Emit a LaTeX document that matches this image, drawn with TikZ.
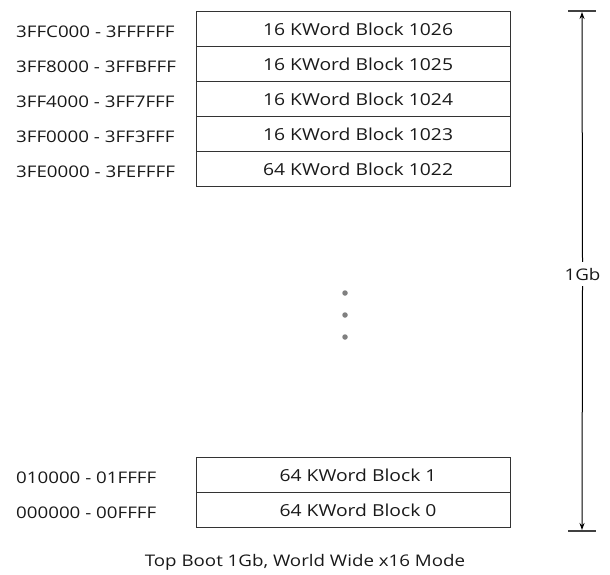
\documentclass[tikz,border=0pt]{standalone}
\usepackage{fontspec}
\setmainfont{Open Sans}[FakeStretch=1.17]
\usetikzlibrary{arrows.meta}
\newcommand{\lowtxt}[1]{\hspace*{10pt}\raisebox{-2.5pt}{#1}}
\begin{document}
\begin{tikzpicture}[x=1pt,y=-1pt,
  txt/.style={font=\fontsize{16}{18}\selectfont, text=black!90, inner sep=0pt},
  blk/.style={draw=black!80, line width=1.1pt, minimum width=314pt, minimum height=35pt, inner sep=0pt, anchor=north west, font=\fontsize{16.5}{18}\selectfont, text=black!90},
  addr/.style={txt, anchor=west},
  dot/.style={circle, fill=black!50, draw=none, minimum size=5.5pt, inner sep=0pt},
  bar/.style={draw=black!75, line width=1.1pt},
  arr/.style={draw=black, line width=1pt, -{Stealth[length=7pt,width=5pt]}}]
\useasboundingbox (0,0) rectangle (610,574);
% top blocks
\node[blk] (b1026) at (195.5,11) {\lowtxt{16 KWord Block 1026}};
\node[blk] (b1025) at (195.5,46) {\lowtxt{16 KWord Block 1025}};
\node[blk] (b1024) at (195.5,81) {\lowtxt{16 KWord Block 1024}};
\node[blk] (b1023) at (195.5,116) {\lowtxt{16 KWord Block 1023}};
\node[blk] (b1022) at (195.5,151) {\lowtxt{64 KWord Block 1022}};
% bottom blocks
\node[blk] (b1) at (195.5,457) {\lowtxt{64 KWord Block 1}};
\node[blk] (b0) at (195.5,492) {\lowtxt{64 KWord Block 0}};
% addresses
\node[addr] (a1026) at (16,31.5) {3FFC000 - 3FFFFFF};
\node[addr] (a1025) at (16,66.5) {3FF8000 - 3FFBFFF};
\node[addr] (a1024) at (16,101.5) {3FF4000 - 3FF7FFF};
\node[addr] (a1023) at (16,136.5) {3FF0000 - 3FF3FFF};
\node[addr] (a1022) at (16,171.5) {3FE0000 - 3FEFFFF};
\node[addr] (a1) at (16,477.5) {010000 - 01FFFF};
\node[addr] (a0) at (16,512.5) {000000 - 00FFFF};
% dots
\node[dot] (d1) at (345,293) {};
\node[dot] (d2) at (345,315) {};
\node[dot] (d3) at (345,337) {};
% size arrow
\coordinate (tl) at (568,11);
\coordinate (tr) at (596,11);
\coordinate (bl) at (568,531);
\coordinate (br) at (596,531);
\coordinate (ttop) at (582,12);
\coordinate (tbot) at (582,530);
\draw[bar] (tl) -- (tr);
\draw[bar] (bl) -- (br);
\node[txt, minimum height=24pt] (gb) at (582.5,274) {1Gb};
\draw[arr] (gb.north) -- (ttop);
\draw[arr] (gb.south) -- (tbot);
% caption
\node[txt] (cap) at (305,562) {Top Boot 1Gb, World Wide x16 Mode};
\end{tikzpicture}
\end{document}
